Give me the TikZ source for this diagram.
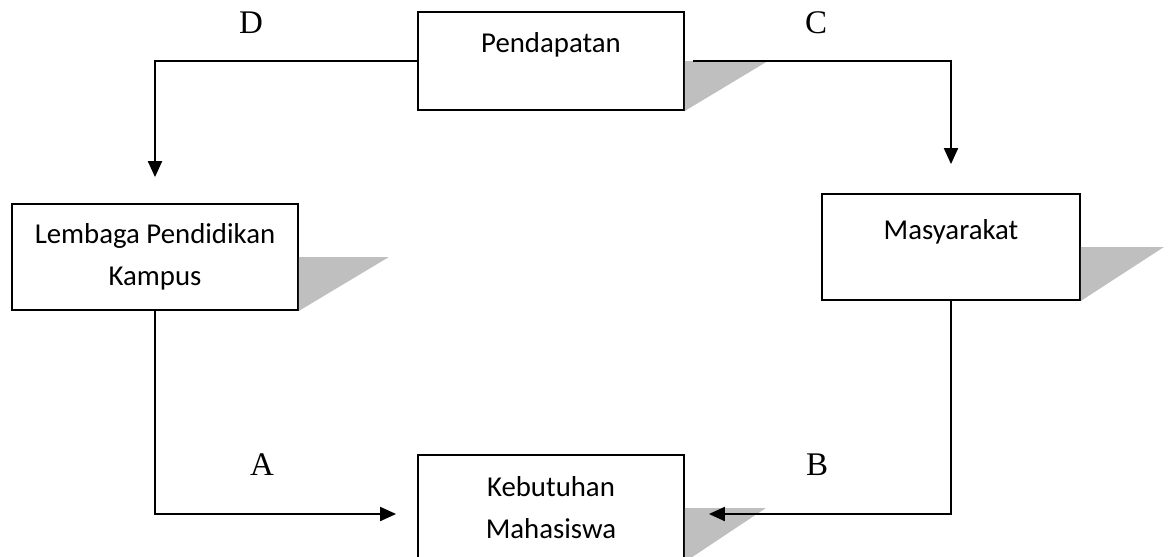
\documentclass[tikz,border=0pt]{standalone}
\usepackage{fontspec}
\setmainfont{Liberation Serif}
\newfontfamily\kotakfont{Carlito}
\usetikzlibrary{arrows.meta,positioning,calc}

\begin{document}
\begin{tikzpicture}[x=0.5pt,y=-0.5pt,
kotak/.style={draw,line width=0.9pt,inner sep=0pt,align=center,font=\kotakfont\fontsize{14.4}{21}\selectfont},
panah/.style={draw,line width=1pt,-{Triangle[length=8pt,width=7pt]}},
huruf/.style={font=\fontsize{16.5}{18}\selectfont},
bayang/.style={fill=black!25}]
\useasboundingbox (0,0) rectangle (1168,557);
% kotak
\node[kotak,minimum width=133pt,text height=20pt,text depth=29pt] (pend) at (551,61) {Pendapatan};
\node[kotak,minimum width=143pt,minimum height=53pt] (lemb) at (155,257) {Lembaga Pendidikan\\Kampus};
\node[kotak,minimum width=129pt,text height=22.5pt,text depth=30.5pt] (masy) at (951,247) {Masyarakat};
\node[kotak,minimum width=133pt,minimum height=53pt] (keb) at (551,508) {Kebutuhan\\Mahasiswa};
% bayangan
\foreach \n/\d in {pend/83,lemb/90,masy/83,keb/81}
  \fill[bayang] (\n.east) -- ++(\d,0) -- (\n.south east) -- cycle;
% panah
\draw[panah,shorten >=13pt] (pend.west) -| (lemb.north);
\draw[panah,shorten <=4pt,shorten >=14.5pt] (pend.east) -| (masy.north);
\draw[panah,shorten >=10.5pt] (lemb.south) |- ([yshift=-3pt]keb.west);
\draw[panah,shorten >=12pt] (masy.south) |- ([yshift=-3pt]keb.east);
% huruf
\node[huruf] (hD) at (251,23) {D};
\node[huruf] (hC) at (816,23) {C};
\node[huruf] (hA) at (262,465) {A};
\node[huruf] (hB) at (817,465) {B};
\end{tikzpicture}
\end{document}
